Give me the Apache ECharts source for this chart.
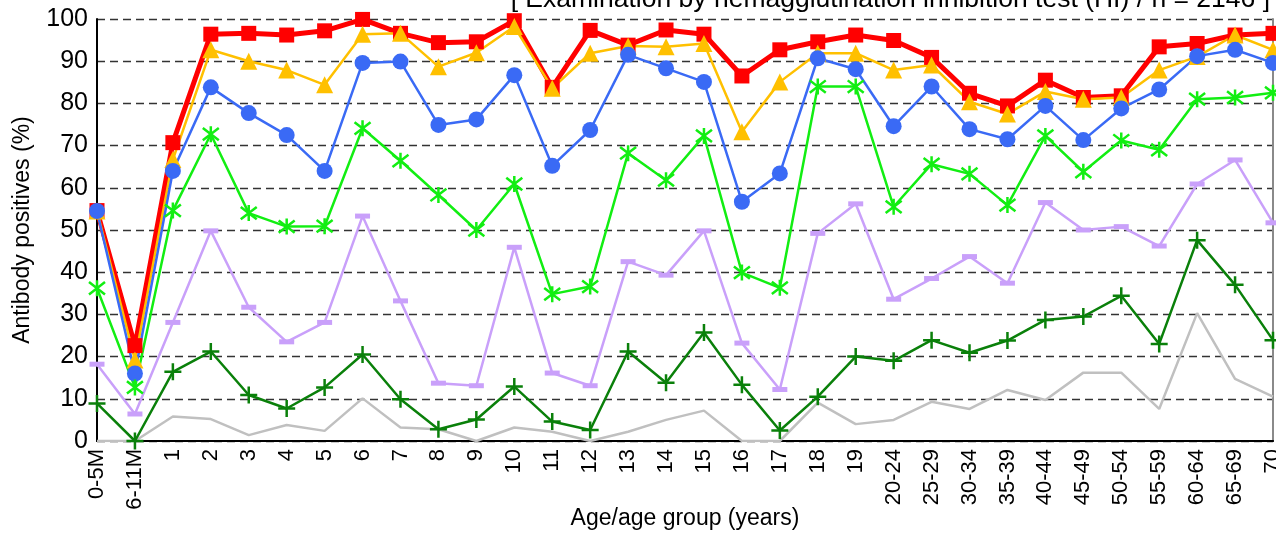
<!DOCTYPE html>
<html><head><meta charset="utf-8">
<script src="https://cdn.jsdelivr.net/npm/echarts@6/dist/echarts.min.js"></script>
<style>html,body{margin:0;padding:0;background:#fff}#c{width:1276px;height:533px}</style>
</head><body><div id="c"></div>
<script>
const categories = ['0-5M','6-11M','1','2','3','4','5','6','7','8','9','10','11','12','13','14','15','16','17','18','19','20-24','25-29','30-34','35-39','40-44','45-49','50-54','55-59','60-64','65-69','70'];
const yTicks = [0,10,20,30,40,50,60,70,80,90,100];
const titleText = '[ Examination by hemagglutination inhibition test (HI) / n = 2146 ]';
const xName = 'Age/age group (years)';
const yName = 'Antibody positives (%)';

const redSeries = [54.6,22.6,70.7,96.4,96.6,96.2,97.2,99.9,96.6,94.4,94.6,99.6,83.8,97.3,93.8,97.4,96.4,86.5,92.7,94.6,96.2,94.9,90.9,82.4,79.4,85.5,81.4,81.8,93.4,94.2,96.2,96.6];
const goldSeries = [54.5,19.2,66.7,92.7,90.0,87.9,84.4,96.4,96.6,88.7,92.0,98.2,83.6,91.9,93.6,93.4,94.2,73.3,85.1,91.9,91.9,87.9,89.1,80.4,77.5,82.8,81.0,81.4,87.9,91.1,96.2,92.7];
const blueSeries = [54.5,16.0,64.0,83.8,77.7,72.5,64.0,89.6,89.9,74.9,76.2,86.7,65.2,73.7,91.5,88.3,85.1,56.7,63.4,90.7,88.1,74.6,84.0,73.9,71.5,79.4,71.3,78.8,83.3,91.2,92.7,89.6];
const greenSeries = [36.2,12.7,54.6,72.7,54.0,50.8,50.9,74.1,66.4,58.3,50.0,60.9,34.8,36.6,68.2,61.8,72.3,39.9,36.3,84.0,84.0,55.5,65.6,63.3,55.9,72.3,63.8,71.2,69.0,81.0,81.4,82.5];
const lavenderSeries = [18.2,6.4,28.1,49.8,31.7,23.5,28.1,53.3,33.2,13.7,13.1,45.9,16.1,13.1,42.5,39.3,49.8,23.2,12.2,49.2,56.2,33.6,38.5,43.7,37.4,56.5,50.0,50.8,46.2,60.9,66.6,51.7];
const darkGreenSeries = [8.9,0,16.4,21.2,10.9,7.7,12.7,20.5,9.9,2.8,5.1,12.9,4.6,2.6,21.2,13.8,25.7,13.3,2.5,10.5,20.0,19.0,23.9,20.9,23.8,28.7,29.5,34.4,23.0,47.6,37.0,23.9];
const graySeries = [0,0,5.8,5.2,1.4,3.8,2.4,10.1,3.2,2.8,0,3.2,2.2,0,2.2,5.0,7.2,0,0,9.1,4.0,5.0,9.3,7.6,12.1,9.7,16.2,16.2,7.6,30.3,14.7,10.5];

const FONT = '"Liberation Sans", Arial, sans-serif';
const chart = echarts.init(document.getElementById('c'), null, {renderer:'canvas'});

function line(name, data, color, width, symbol, size, extra) {
  return Object.assign({
    name, type:'line', data, xAxisIndex:0, yAxisIndex:0,
    symbol, symbolSize:size, showSymbol: symbol !== 'none',
    lineStyle:{color, width},
    itemStyle:{color, opacity:1},
    emphasis:{disabled:true},
    animation:false
  }, extra || {});
}
const asterisk = 'path://M0,0 L10,10 M10,0 L0,10 M5,-1.5 L5,11.5';
const plus = 'path://M5,0 L5,10 M0,5 L10,5';

chart.setOption({
  animation:false,
  textStyle:{fontFamily:FONT},
  grid:{left:97, right:3, top:19, bottom:92, containLabel:false, outerBoundsMode:'none'},
  graphic:[{type:'text', right:6, top:-14, style:{text:titleText, font:'26.5px ' + FONT, fill:'#000', textAlign:'right'}}],
  xAxis:[{
    type:'category', data:categories, boundaryGap:false,
    axisLine:{lineStyle:{color:'#000', width:2}}, axisTick:{show:false},
    axisLabel:{rotate:90, interval:0, fontSize:22, color:'#000', margin:8, fontFamily:FONT},
    splitLine:{show:false},
    name:xName, nameLocation:'middle', nameGap:66, nameMoveOverlap:false,
    nameTextStyle:{fontSize:23, color:'#000', fontFamily:FONT}
  },{
    type:'category', data:categories, boundaryGap:false, position:'top',
    axisLine:{lineStyle:{color:'#000', width:1.5}}, axisTick:{show:false}, axisLabel:{show:false}, splitLine:{show:false}
  }],
  yAxis:[{
    type:'value', min:yTicks[0], max:yTicks[yTicks.length-1], interval:10,
    axisLine:{show:true, lineStyle:{color:'#000', width:2}}, axisTick:{show:false},
    axisLabel:{fontSize:25, color:'#000', margin:9, fontFamily:FONT},
    splitLine:{show:true, lineStyle:{type:[8,5], color:'#333', width:1.3}},
    name:yName, nameLocation:'middle', nameGap:63, nameMoveOverlap:false,
    nameTextStyle:{fontSize:23, color:'#000', fontFamily:FONT}
  },{
    type:'value', min:0, max:100, position:'right',
    axisLine:{show:true, lineStyle:{color:'#8a8a8a', width:2}}, axisTick:{show:false}, axisLabel:{show:false}, splitLine:{show:false}
  }],
  series:[
    line('Gray', graySeries, '#C0C0C0', 2.5, 'none', 0),
    line('Red', redSeries, '#FF0000', 5, 'rect', 15),
    line('Gold', goldSeries, '#FFC000', 2.5, 'triangle', 17),
    line('Blue', blueSeries, '#3A6AF5', 2.5, 'circle', 16),
    line('Green', greenSeries, '#12EE12', 2.5, asterisk, 16, {itemStyle:{color:'none', borderColor:'#12EE12', borderWidth:2.5}}),
    line('Lavender', lavenderSeries, '#C9A0FA', 2.5, 'rect', [15,5]),
    line('DarkGreen', darkGreenSeries, '#0A800A', 2.5, plus, 17, {itemStyle:{color:'none', borderColor:'#0A800A', borderWidth:2.5}})
  ]
});
</script></body></html>
